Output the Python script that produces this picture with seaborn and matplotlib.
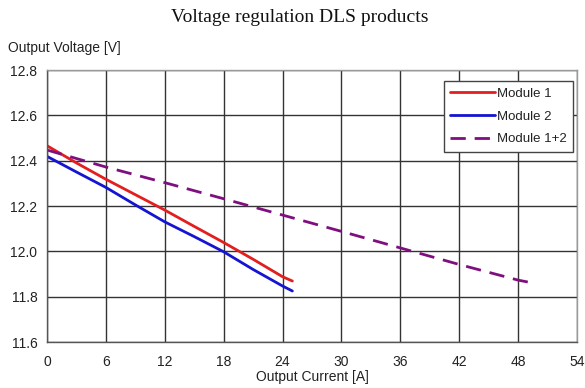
import matplotlib
matplotlib.use("Agg")
import matplotlib.pyplot as plt
import seaborn as sns
import pandas as pd

# Data
current_m1 = [0, 3, 6, 9, 12, 15, 18, 21, 24, 25]
voltage_m1 = [12.466, 12.39, 12.318, 12.25, 12.182, 12.11, 12.039, 11.965, 11.888, 11.869]
current_m2 = [0, 3, 6, 9, 12, 15, 18, 21, 24, 25]
voltage_m2 = [12.419, 12.35, 12.282, 12.205, 12.13, 12.065, 11.998, 11.92, 11.847, 11.825]
current_m12 = [0, 6, 12, 18, 24, 30, 36, 42, 48, 49.3]
voltage_m12 = [12.447, 12.372, 12.303, 12.232, 12.16, 12.088, 12.015, 11.942, 11.873, 11.862]
series_names = ["Module 1", "Module 2", "Module 1+2"]
x_ticks = [0, 6, 12, 18, 24, 30, 36, 42, 48, 54]
y_ticks = [11.6, 11.8, 12.0, 12.2, 12.4, 12.6, 12.8]

df = pd.concat([
    pd.DataFrame({"current": current_m1, "voltage": voltage_m1, "series": series_names[0]}),
    pd.DataFrame({"current": current_m2, "voltage": voltage_m2, "series": series_names[1]}),
    pd.DataFrame({"current": current_m12, "voltage": voltage_m12, "series": series_names[2]}),
], ignore_index=True)

sns.set_style("white")
plt.rcParams["font.family"] = ["Liberation Sans", "DejaVu Sans"]

fig = plt.figure(figsize=(5.85, 3.88), dpi=100)
ax = fig.add_axes([47 / 585, 1 - 342 / 388, (577 - 47) / 585, (342 - 70) / 388])

palette = {"Module 1": "#e41e1e", "Module 2": "#1414d2", "Module 1+2": "#7f0f7f"}
dashes = {"Module 1": "", "Module 2": "", "Module 1+2": (5.5, 3.2)}
sns.lineplot(data=df, x="current", y="voltage", hue="series", style="series",
             palette=palette, dashes=dashes, linewidth=2.0, ax=ax,
             hue_order=series_names, style_order=series_names, sort=False)

ax.set_xlim(0, 54)
ax.set_ylim(11.6, 12.8)
ax.set_xticks(x_ticks)
ax.set_xticklabels([str(t) for t in x_ticks])
ax.set_yticks(y_ticks)
ax.set_yticklabels([f"{t:.1f}" for t in y_ticks])
ax.grid(True, color="#333333", linewidth=1.0)
ax.set_axisbelow(True)
ax.tick_params(axis="both", direction="out", length=5, width=1, color="#555555",
               labelsize=10, labelcolor="#222222", pad=4)
ax.tick_params(axis="y", pad=2)
for side in ["left", "bottom"]:
    ax.spines[side].set_color("#555555")
    ax.spines[side].set_linewidth(1.0)
for side in ["top", "right"]:
    ax.spines[side].set_color("#9a9a9a")
    ax.spines[side].set_linewidth(1.0)

ax.set_xlabel("Output Current [A]", fontsize=10, color="#222222", labelpad=1)
ax.set_ylabel("")

leg = ax.legend(loc="upper right", bbox_to_anchor=(0.9925, 0.96), frameon=True,
                fancybox=False, framealpha=1, edgecolor="#444444",
                handlelength=3.4, handletextpad=0.1, fontsize=9.5,
                borderpad=0.5, labelspacing=0.8, borderaxespad=0)
leg.get_frame().set_linewidth(1.0)
for t in leg.get_texts():
    t.set_color("#222222")

fig.text(8 / 585, 1 - 48 / 388, "Output Voltage [V]", fontsize=10, color="#222222",
         va="center", ha="left")
fig.text(300 / 585, 1 - 18 / 388, "Voltage regulation DLS products", fontsize=14,
         family=["Liberation Serif", "DejaVu Serif"], color="#111111", ha="center", va="center")

fig.savefig("out.png", dpi=100, facecolor="white")
